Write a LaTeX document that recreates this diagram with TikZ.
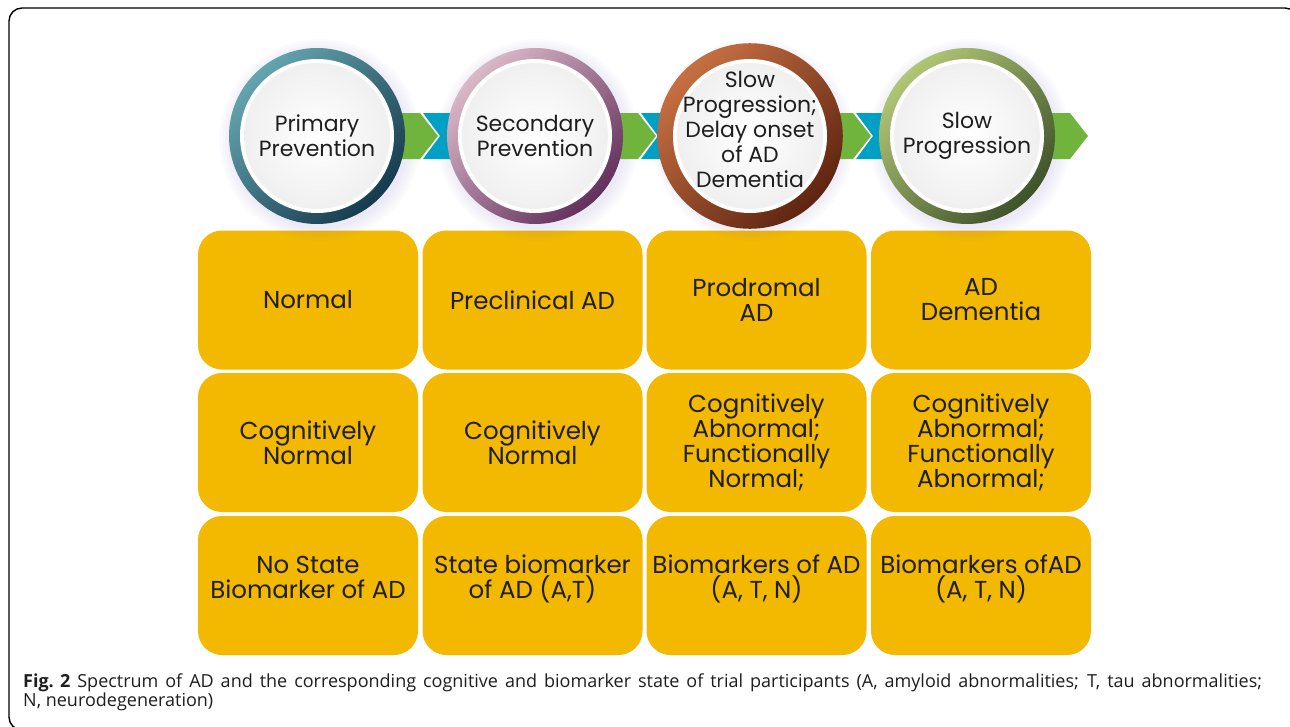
\documentclass[tikz,border=0pt]{standalone}
\usepackage{fontspec}
\setmainfont{Poppins}
\newfontfamily\capfont{Open Sans}
\usetikzlibrary{calc}

\definecolor{bandblue}{RGB}{0,160,196}
\definecolor{bandgreen}{RGB}{112,180,62}
\definecolor{boxyellow}{RGB}{243,184,0}
\definecolor{glowlav}{RGB}{140,130,200}
\definecolor{inkgray}{RGB}{30,30,30}
\definecolor{tealA}{RGB}{100,165,175}
\definecolor{tealB}{RGB}{22,58,78}
\definecolor{mauveA}{RGB}{218,185,200}
\definecolor{mauveB}{RGB}{98,48,92}
\definecolor{rustA}{RGB}{198,112,66}
\definecolor{rustB}{RGB}{94,36,16}
\definecolor{oliveA}{RGB}{178,198,118}
\definecolor{oliveB}{RGB}{62,82,42}

\tikzset{
stage/.style 2 args={circle, minimum size=176pt, inner sep=0pt, top color=#1, bottom color=#2, shading angle=45,
  align=center, text=inkgray, font=\fontsize{22}{25}\selectfont,
  path picture={
    \fill[white] (path picture bounding box.center) circle (77pt);
    \shade[inner color=white, outer color=black!6] (path picture bounding box.center) circle (73pt);}},
cell/.style={rounded corners=24pt, fill=boxyellow, minimum width=220pt, minimum height=139pt, inner sep=0pt,
  align=center, text=inkgray, font=\fontsize{24.5}{25}\selectfont},
chevron/.style={fill=bandgreen},
band/.style={fill=bandblue},
capline/.style={anchor=base west, inner sep=0pt, text=inkgray, font=\capfont\fontsize{18}{19}\selectfont}}

\begin{document}
\begin{tikzpicture}[x=1pt,y=1pt,yscale=-1,xscale=1]
\useasboundingbox (0,0) rectangle (1290,726);

%Frame
\draw [line width=1.4pt, rounded corners=13pt] (9,8) rectangle (1298,730);

%Rounded Rect grid
\node [cell] (n1) at (308,300) {Normal};
\node [cell] (n2) at (532.5,300) {Preclinical AD};
\node [cell] (n3) at (756.5,300) {Prodromal\\AD};
\node [cell] (n4) at (981,300) {AD\\Dementia};
\node [cell] (c1) at (308,442.5) {Cognitively\\Normal};
\node [cell] (c2) at (532.5,442.5) {Cognitively\\Normal};
\node [cell] (c3) at (756.5,442.5) {Cognitively\\Abnormal;\\Functionally\\Normal;};
\node [cell] (c4) at (981,442.5) {Cognitively\\Abnormal;\\Functionally\\Abnormal;};
\node [cell, text depth=17pt] (b1) at (308,585.5) {No State\\Biomarker of AD};
\node [cell, text depth=17pt] (b2) at (532.5,585.5) {State biomarker\\of AD (A,T)};
\node [cell, text depth=17pt] (b3) at (756.5,585.5) {Biomarkers of AD\\(A, T, N)};
\node [cell, text depth=17pt] (b4) at (981,585.5) {Biomarkers ofAD\\(A, T, N)};

%Circle centres
\coordinate (p1) at (317,136);
\coordinate (p2) at (535,136);
\coordinate (p3) at (750,136);
\coordinate (p4) at (967,136);

%Soft shadow under the circles
\foreach \p in {p1,p2,p3,p4}{
  \foreach \r in {89,92,...,101}
    \fill [glowlav, opacity=0.035] ($(\p)+(3,4)$) circle (\r pt);
}

%Arrow band
\foreach \a/\b in {p1/p2,p2/p3,p3/p4}{
  \fill [band] ($(\a)+(106,-23)$) -- ($(\a)+(123,0)$) -- ($(\a)+(106,23)$)
    -- ($(\b)+(0,23)$) -- ($(\b)+(0,-23)$) -- cycle;
}
\foreach \p in {p1,p2,p3,p4}{
  \fill [chevron] ($(\p)+(0,-23)$) -- ($(\p)+(103,-23)$) -- ($(\p)+(121,0)$)
    -- ($(\p)+(103,23)$) -- ($(\p)+(0,23)$) -- cycle;
}

%Stage circles
\node [stage={tealA}{tealB}] (s1) at (p1) {Primary\\Prevention};
\node [stage={mauveA}{mauveB}] (s2) at (p2) {Secondary\\Prevention};
\node [stage={rustA}{rustB}, text depth=13pt] (s3) at (p3) {Slow\\Progression;\\Delay onset\\of AD\\Dementia};
\node [stage={oliveA}{oliveB}] (s4) at (p4) {Slow\\Progression};

% Caption
\node [capline] (cap1) at (23,687)
  {\makebox[1239pt][s]{\mbox{\textbf{Fig. 2}} Spectrum of AD and the corresponding cognitive and biomarker state of trial participants (A, amyloid abnormalities; T, tau abnormalities;}};
\node [capline] (cap2) at (23,706) {N, neurodegeneration)};

\end{tikzpicture}
\end{document}
